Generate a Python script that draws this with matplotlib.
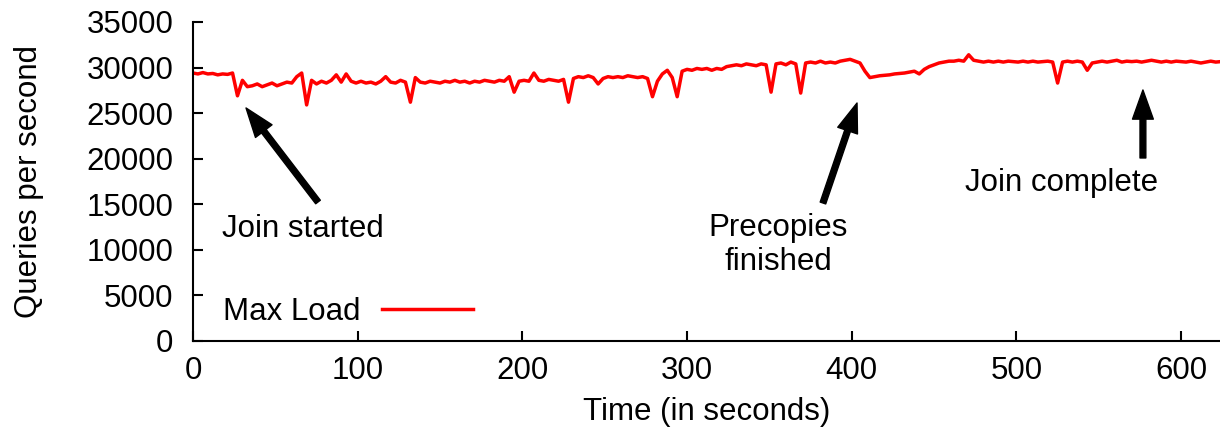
import matplotlib.pyplot as plt

plt.rcParams['font.family'] = ['Liberation Sans', 'DejaVu Sans']

# time axis (seconds) and throughput (thousands of queries/s)
t = [0, 3, 6, 9, 12, 15, 18, 21, 24, 27, 30, 33, 36, 39, 42, 45, 48, 51, 54, 57,
     60, 63, 66, 69, 72, 75, 78, 81, 84, 87, 90, 93, 96, 99, 102, 105, 108, 111, 114, 117,
     120, 123, 126, 129, 132, 135, 138, 141, 144, 147, 150, 153, 156, 159, 162, 165, 168, 171, 174, 177,
     180, 183, 186, 189, 192, 195, 198, 201, 204, 207, 210, 213, 216, 219, 222, 225, 228, 231, 234, 237,
     240, 243, 246, 249, 252, 255, 258, 261, 264, 267, 270, 273, 276, 279, 282, 285, 288, 291, 294, 297,
     300, 303, 306, 309, 312, 315, 318, 321, 324, 327, 330, 333, 336, 339, 342, 345, 348, 351, 354, 357,
     360, 363, 366, 369, 372, 375, 378, 381, 384, 387, 390, 393, 396, 399, 402, 405, 408, 411, 414, 417,
     420, 423, 426, 429, 432, 435, 438, 441, 444, 447, 450, 453, 456, 459, 462, 465, 468, 471, 474, 477,
     480, 483, 486, 489, 492, 495, 498, 501, 504, 507, 510, 513, 516, 519, 522, 525, 528, 531, 534, 537,
     540, 543, 546, 549, 552, 555, 558, 561, 564, 567, 570, 573, 576, 579, 582, 585, 588, 591, 594, 597,
     600, 603, 606, 609, 612, 615, 618, 621, 624]
qps_k = [29.4, 29.3, 29.45, 29.3, 29.35, 29.2, 29.3, 29.25, 29.4, 26.9, 28.6, 27.9, 28.0, 28.2, 27.9, 28.1, 28.3, 28.0, 28.2, 28.4,
         28.3, 29.0, 29.4, 25.9, 28.6, 28.2, 28.5, 28.3, 28.6, 29.2, 28.4, 29.3, 28.5, 28.3, 28.5, 28.3, 28.4, 28.2, 28.5, 29.0,
         28.4, 28.3, 28.6, 28.4, 26.2, 28.9, 28.4, 28.3, 28.5, 28.4, 28.3, 28.5, 28.4, 28.6, 28.4, 28.5, 28.3, 28.5, 28.4, 28.6,
         28.5, 28.4, 28.6, 28.5, 29.0, 27.3, 28.5, 28.6, 28.5, 29.4, 28.6, 28.5, 28.7, 28.6, 28.5, 28.7, 26.2, 28.8, 29.0, 28.9,
         29.1, 28.9, 28.2, 28.8, 29.0, 28.9, 29.0, 28.9, 29.1, 29.0, 28.9, 29.0, 28.8, 26.8, 28.5, 29.3, 29.7, 28.9, 26.8, 29.6,
         29.8, 29.7, 29.9, 29.8, 29.9, 29.7, 29.9, 29.8, 30.1, 30.2, 30.3, 30.2, 30.4, 30.3, 30.2, 30.4, 30.3, 27.3, 30.4, 30.5,
         30.3, 30.6, 30.4, 27.2, 30.5, 30.6, 30.5, 30.7, 30.5, 30.6, 30.5, 30.7, 30.8, 30.9, 30.7, 30.5, 29.6, 28.9, 29.0, 29.1,
         29.15, 29.2, 29.3, 29.35, 29.4, 29.5, 29.6, 29.3, 29.8, 30.1, 30.3, 30.5, 30.6, 30.7, 30.7, 30.8, 30.7, 31.4, 30.8, 30.7,
         30.6, 30.7, 30.6, 30.7, 30.6, 30.7, 30.65, 30.6, 30.7, 30.6, 30.7, 30.6, 30.65, 30.7, 30.6, 28.3, 30.6, 30.7, 30.6, 30.7,
         30.6, 29.7, 30.5, 30.6, 30.7, 30.6, 30.7, 30.8, 30.6, 30.7, 30.65, 30.7, 30.6, 30.7, 30.8, 30.7, 30.6, 30.7, 30.6, 30.7,
         30.65, 30.6, 30.7, 30.6, 30.5, 30.6, 30.7, 30.6, 30.65]
qps = [v * 1000 for v in qps_k]

fs = 22.5

fig = plt.figure(figsize=(12.2, 4.36), dpi=100)
ax = fig.add_axes([0.1582, 0.2179, 0.8418, 0.7317])

ax.plot(t, qps, color='#ff0000', lw=2.5, label='Max Load')

ax.set_xlim(0, 623.6)
ax.set_ylim(0, 35000)
ax.set_xticks(range(0, 700, 100))
ax.set_yticks(range(0, 35001, 5000))
ax.spines['top'].set_visible(False)
ax.spines['right'].set_visible(False)
for s in ['left', 'bottom']:
    ax.spines[s].set_linewidth(1.5)
ax.tick_params(direction='in', length=7, width=1.5, labelsize=fs)
ax.tick_params(axis='y', pad=14)
ax.tick_params(axis='x', pad=11)

ax.set_xlabel('Time (in seconds)', fontsize=fs, labelpad=8)
ax.set_ylabel('Queries per second', fontsize=fs, labelpad=31)

arrow = dict(width=4.2, headwidth=15, headlength=21, facecolor='black', edgecolor='black', shrink=0)
ax.annotate('', xy=(32.2, 25565), xytext=(75.9, 15250), arrowprops=arrow)
ax.annotate('', xy=(403.2, 26110), xytext=(382.5, 15140), arrowprops=arrow)
ax.annotate('', xy=(576.8, 27540), xytext=(576.8, 20080), arrowprops=arrow)
ax.text(66.8, 12290, 'Join started', fontsize=fs, ha='center', va='center')
ax.text(355.2, 10530, 'Precopies\nfinished', fontsize=fs, ha='center', va='center',
        multialignment='center', linespacing=1.2)
ax.text(527.6, 17340, 'Join complete', fontsize=fs, ha='center', va='center')

leg = ax.legend(loc='lower left', bbox_to_anchor=(0.008, -0.025), frameon=False, fontsize=fs,
                markerfirst=False, handlelength=2.9, handletextpad=0.7, borderaxespad=0.3)

fig.savefig('out.png', dpi=100)
